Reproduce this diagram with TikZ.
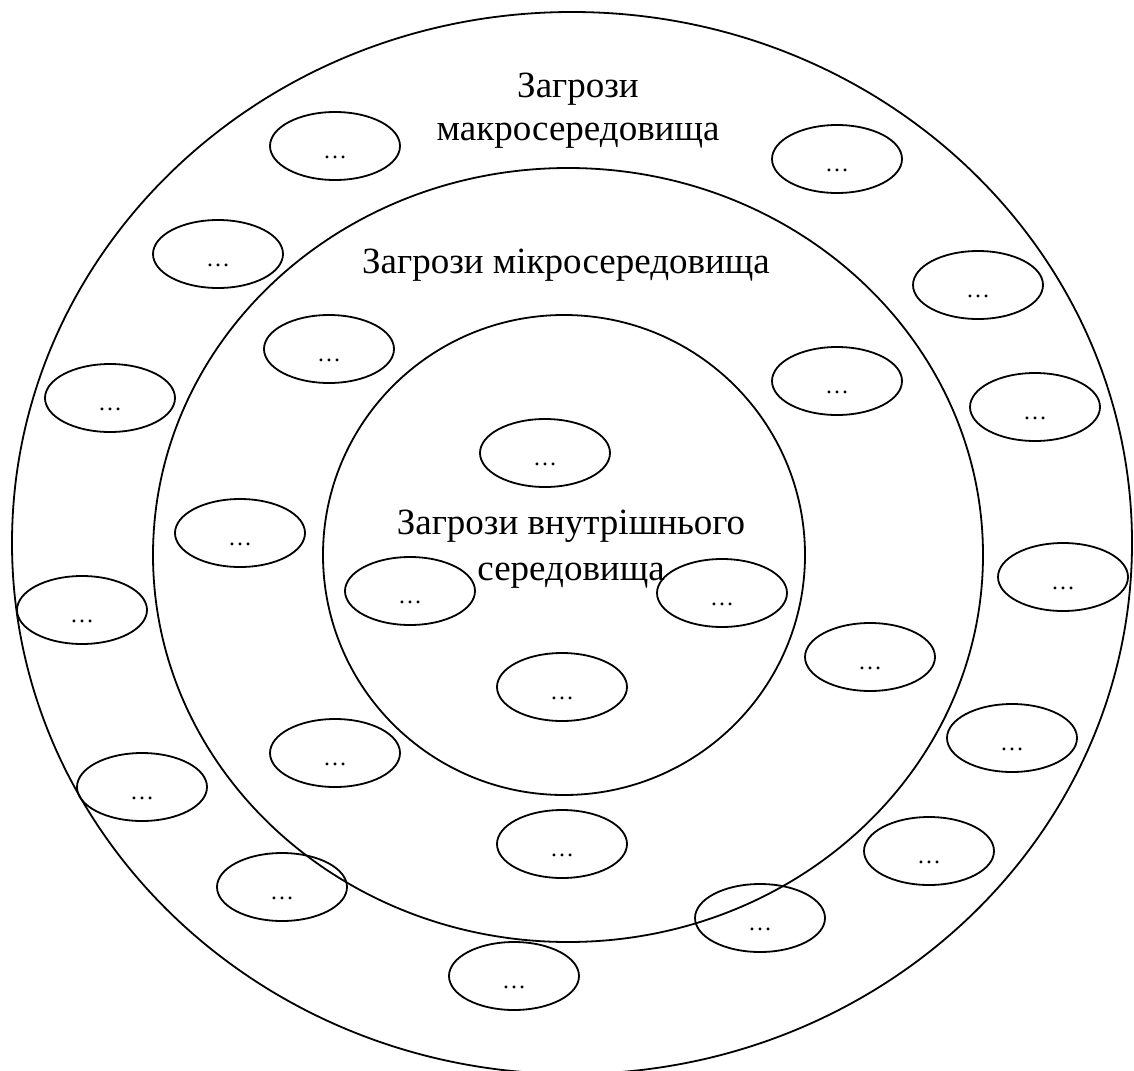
\documentclass[tikz,border=0pt]{standalone}
\usepackage{fontspec}
\setmainfont{Liberation Serif}
\usetikzlibrary{shapes.geometric}
\tikzset{
  ring/.style={draw, line width=1.8pt},
  threat/.style={draw, ellipse, line width=1.8pt, minimum width=130pt, minimum height=68pt, inner sep=0pt,
    label={[font=\fontsize{24}{24}\selectfont, yshift=-11pt]center:…}},
  title/.style={align=center, font=\fontsize{37}{43}\selectfont, inner sep=0pt}
}
\begin{document}
\begin{tikzpicture}[x=1pt, y=-1pt]
\useasboundingbox (0,0) rectangle (1134,1070);
\draw[ring] (572,543) ellipse [x radius=560, y radius=531];
\draw[ring] (568,555) ellipse [x radius=415, y radius=387];
\draw[ring] (564,555) ellipse [x radius=241, y radius=240];

\node[title] (tmacro) at (578,111) {Загрози\\макросередовища};
\node[title] (tmicro) at (566,265) {Загрози мікросередовища};
\node[title, font=\fontsize{37}{46}\selectfont] (tinner) at (571,549) {Загрози внутрішнього\\середовища};

\node[threat] (e1) at (335,146) {};
\node[threat] (e2) at (837,159) {};
\node[threat] (e3) at (218,254) {};
\node[threat] (e4) at (978,285) {};
\node[threat] (e5) at (329,349) {};
\node[threat] (e6) at (837,381) {};
\node[threat] (e7) at (110,398) {};
\node[threat] (e8) at (1035,407) {};
\node[threat] (e9) at (545,453) {};
\node[threat] (e10) at (240,533) {};
\node[threat] (e11) at (410,591) {};
\node[threat] (e12) at (722,593) {};
\node[threat] (e13) at (1063,577) {};
\node[threat] (e14) at (82,610) {};
\node[threat] (e15) at (870,657) {};
\node[threat] (e16) at (562,687) {};
\node[threat] (e17) at (1012,738) {};
\node[threat] (e18) at (335,753) {};
\node[threat] (e19) at (142,787) {};
\node[threat] (e20) at (562,844) {};
\node[threat] (e21) at (929,851) {};
\node[threat] (e22) at (282,887) {};
\node[threat] (e23) at (760,918) {};
\node[threat] (e24) at (514,976) {};
\end{tikzpicture}
\end{document}
